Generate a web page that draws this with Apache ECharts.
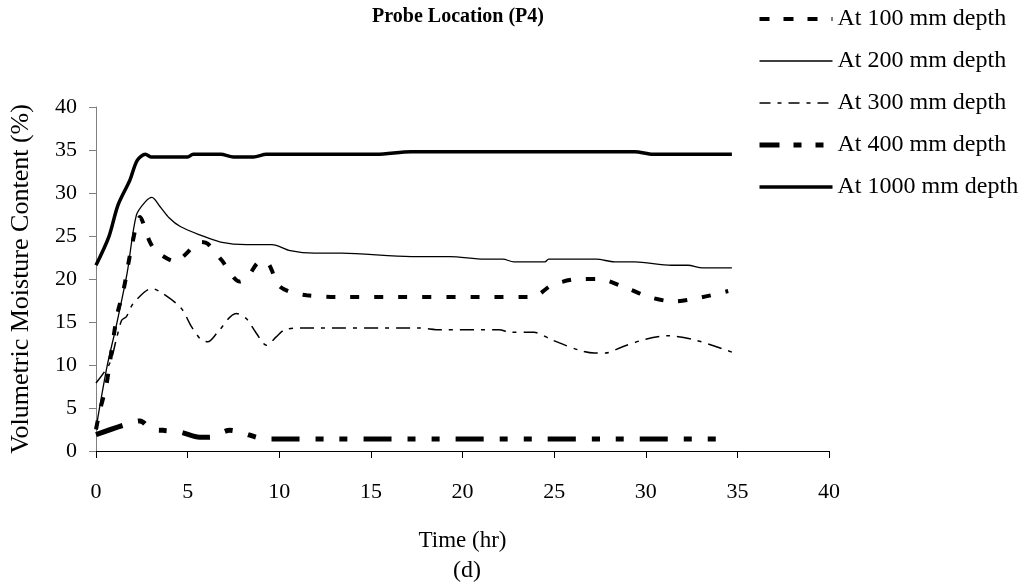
<!DOCTYPE html>
<html>
<head>
<meta charset="utf-8">
<script src="https://cdn.jsdelivr.net/npm/echarts@6/dist/echarts.min.js"></script>
<style>html,body{margin:0;padding:0;background:#fff;}#c{width:1034px;height:586px;}</style>
</head>
<body>
<div id="c"></div>
<script>
var seriesNames = ['At 100 mm depth', 'At 200 mm depth', 'At 300 mm depth', 'At 400 mm depth', 'At 1000 mm depth'];

var t100 = [0, 0.2, 0.55, 0.75, 1.15, 1.5, 1.95, 2.4, 2.9, 3.3, 4.4, 4.75, 5.75, 6.1, 6.85, 7.85, 8.3, 8.95, 9.4, 9.95, 10.6, 11.5, 13.5, 23.8, 24.9, 26.4, 27.4, 29.0, 30.2, 31.5, 32.9, 34.5];
var v100 = [2.5, 4.6, 7.5, 10.2, 15.8, 18.7, 23.8, 27.2, 24.5, 23.2, 22.0, 22.6, 24.3, 24.1, 22.2, 19.7, 20.3, 22.0, 21.8, 19.3, 18.5, 18.1, 17.9, 17.9, 19.3, 20.0, 20.0, 18.9, 17.9, 17.4, 17.8, 18.6];

var t200 = [0, 0.6, 1.1, 1.7, 2.2, 2.7, 3.05, 3.5, 4.0, 4.6, 5.7, 6.8, 8.2, 9.6, 10.6, 11.9, 13.4, 17.2, 19.3, 21.2, 22.2, 22.8, 24.5, 24.7, 27.3, 28.3, 29.4, 31.4, 32.3, 33.1, 34.7];
var v200 = [2.6, 9.8, 14.5, 20.7, 27.4, 29.0, 29.5, 28.4, 27.1, 26.1, 25.1, 24.3, 24.0, 24.0, 23.3, 23.0, 23.0, 22.6, 22.6, 22.3, 22.3, 22.0, 22.0, 22.3, 22.3, 22.0, 22.0, 21.6, 21.6, 21.3, 21.3];

var t300 = [0, 0.75, 1.1, 1.4, 1.65, 2.05, 3.05, 3.65, 4.65, 5.2, 5.75, 6.1, 6.6, 7.65, 8.2, 8.75, 9.3, 9.85, 10.3, 11.1, 17.6, 18.8, 22.0, 22.6, 23.9, 24.9, 26.4, 27.2, 27.8, 28.7, 30.0, 31.2, 32.7, 34.7];
var v300 = [7.9, 10.2, 12.9, 15.2, 15.6, 17.2, 18.9, 18.3, 16.6, 14.5, 12.9, 12.7, 13.7, 16.0, 15.4, 13.7, 12.3, 13.3, 14.1, 14.3, 14.3, 14.1, 14.1, 13.8, 13.8, 12.9, 11.7, 11.4, 11.4, 12.1, 13.0, 13.4, 12.9, 11.5];

var t400 = [0, 1.5, 2.4, 3.05, 3.65, 4.6, 5.65, 6.2, 7.3, 7.85, 9.3, 34.5];
var v400 = [1.9, 3.0, 3.5, 2.5, 2.4, 2.2, 1.6, 1.6, 2.4, 2.2, 1.4, 1.4];

var t1000 = [0, 0.7, 1.2, 1.85, 2.25, 2.7, 3.0, 5.0, 5.3, 6.8, 7.5, 8.6, 9.3, 15.3, 17.2, 29.4, 30.4, 34.7];
var v1000 = [21.6, 24.9, 28.6, 31.5, 33.8, 34.5, 34.2, 34.2, 34.5, 34.5, 34.2, 34.2, 34.5, 34.5, 34.8, 34.8, 34.5, 34.5];

var xTicks = [0, 5, 10, 15, 20, 25, 30, 35, 40];
var yTicks = [0, 5, 10, 15, 20, 25, 30, 35, 40];

function pairs(t, v) { return t.map(function (x, i) { return [x, v[i]]; }); }

var FONT = 'Liberation Serif';
var styles = [
  { width: 4, type: [9, 15] },
  { width: 1.3, type: 'solid' },
  { width: 1.5, type: [14, 7, 4, 7] },
  { width: 5, type: [28, 16, 8, 16, 8, 16] },
  { width: 3.5, type: 'solid' }
];
var legendStyles = [
  { width: 4, type: [10, 14] },
  { width: 1.3, type: 'solid' },
  { width: 1.5, type: [11, 7, 4, 7] },
  { width: 5, type: [20, 14, 8, 14, 8, 14] },
  { width: 3.5, type: 'solid' }
];
var dataSets = [pairs(t100, v100), pairs(t200, v200), pairs(t300, v300), pairs(t400, v400), pairs(t1000, v1000)];

var chart = echarts.init(document.getElementById('c'), null, { renderer: 'canvas' });
chart.setOption({
  animation: false,
  backgroundColor: '#fff',
  textStyle: { fontFamily: FONT, color: '#000' },
  title: [
    { text: 'Probe Location (P4)', left: 453, top: 2, textAlign: 'center',
      textStyle: { fontFamily: FONT, fontWeight: 'bold', fontSize: 20, color: '#000' } },
    { text: '(d)', left: 462, top: 554, textAlign: 'center',
      textStyle: { fontFamily: FONT, fontWeight: 'normal', fontSize: 24, color: '#000' } }
  ],
  legend: {
    orient: 'vertical', left: 752, top: 2, itemWidth: 73, itemHeight: 14, itemGap: 18,
    data: seriesNames.map(function (n, i) {
      return { name: n, itemStyle: { opacity: 0 },
        lineStyle: { color: '#000', width: legendStyles[i].width, type: legendStyles[i].type, cap: 'butt' } };
    }),
    textStyle: { fontFamily: FONT, fontSize: 24, color: '#000' }
  },
  grid: { left: 96, right: 205, top: 107, bottom: 135 },
  xAxis: {
    type: 'value', min: 0, max: 40, interval: 5,
    name: 'Time (hr)', nameLocation: 'middle', nameGap: 78,
    nameTextStyle: { fontFamily: FONT, fontSize: 23, color: '#000' },
    axisLine: { show: true, onZero: false, lineStyle: { color: '#000', width: 1 } },
    axisTick: { show: true, inside: false, length: 7, lineStyle: { color: '#000' } },
    axisLabel: { margin: 30, fontFamily: FONT, fontSize: 22, color: '#000',
      formatter: function (v) { return xTicks.indexOf(v) >= 0 ? String(v) : ''; } },
    splitLine: { show: false }
  },
  yAxis: {
    type: 'value', min: 0, max: 40, interval: 5,
    name: 'Volumetric Moisture Content (%)', nameLocation: 'middle', nameGap: 62, nameRotate: 90,
    nameTextStyle: { fontFamily: FONT, fontSize: 26, color: '#000' },
    axisLine: { show: true, lineStyle: { color: '#808080', width: 1 } },
    axisTick: { show: true, inside: false, length: 7, lineStyle: { color: '#808080' } },
    axisLabel: { margin: 19, fontFamily: FONT, fontSize: 22, color: '#000',
      formatter: function (v) { return yTicks.indexOf(v) >= 0 ? String(v) : ''; } },
    splitLine: { show: false }
  },
  series: seriesNames.map(function (n, i) {
    return {
      name: n, type: 'line', data: dataSets[i], smooth: 0.3,
      symbol: 'none', showSymbol: false, clip: false,
      lineStyle: { color: '#000', width: styles[i].width, type: styles[i].type, cap: 'butt' },
      itemStyle: { color: '#000' }
    };
  })
});
</script>
</body>
</html>
